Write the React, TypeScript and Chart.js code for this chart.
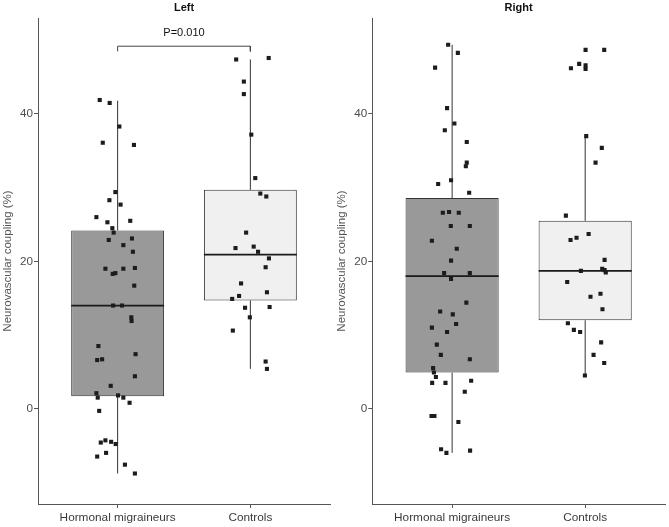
import React, { useEffect, useRef } from 'react';
import { Chart, registerables } from 'chart.js';

Chart.register(...registerables);

// ---- shared axis data ----
const categories = ['Hormonal migraineurs', 'Controls'];
const yTickValues = [0, 20, 40];
const yMin = -12.94;
const yMax = 53.03;
const yTitle = 'Neurovascular coupling (%)';

// ---- Left panel: box statistics (per category) ----
const leftQ1 = [1.7, 14.7];
const leftMedian = [14.0, 20.9];
const leftQ3 = [24.2, 29.7];
const leftLow = [-8.8, 5.4];
const leftHigh = [41.8, 47.4];

// ---- Left panel: jittered points ----
const leftHmX = [-0.135, -0.06, 0.013, -0.112, 0.123, -0.017, -0.062, 0.022, -0.16, 0.095, -0.077, -0.04, -0.03, 0.108, -0.067, 0.043, 0.115, -0.092, -0.037, -0.017, 0.043, 0.13, 0.125, -0.034, 0.033, 0.103, 0.105, -0.145, -0.154, -0.117, 0.135, 0.13, -0.052, -0.16, -0.15, 0.003, 0.043, 0.09, -0.139, -0.127, -0.092, -0.049, -0.015, -0.087, -0.154, 0.055, 0.13];
const leftHmY = [41.9, 41.5, 38.3, 36.1, 35.8, 29.4, 28.3, 27.7, 26.0, 25.5, 25.3, 24.5, 23.9, 23.1, 22.9, 22.2, 21.3, 19.0, 18.3, 18.4, 19.0, 19.1, 16.7, 14.0, 14.0, 12.4, 11.9, 8.5, 6.6, 6.7, 7.4, 4.4, 3.1, 2.1, 1.5, 1.8, 1.5, 0.8, -0.3, -4.6, -4.3, -4.5, -4.8, -6.0, -6.5, -7.6, -8.8];
const leftCtX = [-0.107, 0.138, -0.049, -0.049, 0.007, 0.037, 0.075, 0.12, -0.032, -0.112, 0.025, 0.058, 0.14, 0.115, -0.07, 0.125, -0.085, -0.137, -0.04, 0.145, -0.004, -0.132, 0.115, 0.125];
const leftCtY = [47.4, 47.6, 44.4, 42.7, 37.2, 31.3, 29.2, 28.8, 23.9, 21.8, 22.0, 21.3, 20.4, 19.2, 17.0, 15.8, 15.3, 14.9, 13.7, 13.8, 12.4, 10.6, 6.4, 5.4];

// ---- Right panel: box statistics ----
const rightQ1 = [4.9, 12.0];
const rightMedian = [18.0, 18.7];
const rightQ3 = [28.6, 25.5];
const rightLow = [-6.0, 4.5];
const rightHigh = [49.4, 37.0];

// ---- Right panel: jittered points ----
const rightHmX = [-0.03, 0.043, -0.128, -0.038, 0.017, -0.055, 0.11, 0.11, 0.103, -0.008, -0.105, 0.128, -0.07, -0.023, 0.05, -0.01, 0.133, -0.152, 0.035, -0.008, -0.06, 0.133, -0.008, 0.107, -0.09, 0.005, 0.03, -0.152, -0.038, -0.115, -0.085, 0.133, -0.143, -0.137, -0.122, -0.15, -0.05, 0.143, 0.095, -0.155, -0.133, 0.047, -0.083, -0.043, 0.135];
const rightHmY = [49.4, 48.3, 46.3, 40.8, 38.7, 37.8, 36.2, 33.4, 32.9, 31.0, 30.5, 29.3, 26.6, 26.7, 26.6, 24.8, 24.8, 22.8, 21.7, 20.1, 18.4, 18.4, 17.6, 14.4, 13.2, 12.8, 11.5, 11.0, 10.4, 8.7, 7.3, 6.7, 5.5, 4.9, 4.3, 3.5, 3.5, 3.8, 2.3, -1.0, -1.0, -1.8, -5.5, -6.0, -5.7];
const rightCtX = [0.003, 0.143, -0.045, 0.003, -0.107, 0.003, 0.008, 0.125, 0.078, -0.145, 0.026, -0.065, -0.11, 0.146, 0.128, 0.146, 0.155, -0.032, -0.135, 0.04, 0.115, 0.13, -0.13, -0.085, -0.038, 0.12, 0.063, 0.143, -0.002];
const rightCtY = [48.7, 48.7, 46.8, 46.6, 46.2, 46.1, 37.0, 35.4, 33.4, 26.2, 23.7, 23.2, 22.9, 20.2, 19.0, 18.8, 18.5, 18.7, 17.2, 15.2, 15.6, 13.5, 11.6, 10.7, 10.4, 9.0, 7.3, 6.2, 4.5];

// ---- significance bracket (left panel) ----
const bracketTop = 49.2;
const bracketFoot = 48.5;
const pLabel = 'P=0.010';
const pLabelY = 51.0;

// ---- styles ----
const FONT = "'Liberation Sans', Arial, sans-serif";
const BOX_WIDTH = 0.7;
const boxFills = ['#999999', '#F0F0F0'];
const axisColor = '#555555';
const tickColor = '#4D4D4D';

type PanelProps = {
  title: string;
  left: number;
  width: number;
  yAxisWidth: number;
  q1: number[];
  median: number[];
  q3: number[];
  low: number[];
  high: number[];
  hmX: number[];
  hmY: number[];
  ctX: number[];
  ctY: number[];
  bracket?: boolean;
};

function Panel(p: PanelProps) {
  const ref = useRef<HTMLCanvasElement | null>(null);
  useEffect(() => {
    if (!ref.current) return;
    const points: { x: number; y: number }[] = [];
    p.hmX.forEach((dx, i) => points.push({ x: 1 + dx, y: p.hmY[i] }));
    p.ctX.forEach((dx, i) => points.push({ x: 2 + dx, y: p.ctY[i] }));

    const boxes = categories.map((_, i) => ({ x: i + 1, y: [p.q1[i], p.q3[i]] }));
    const medians: any[] = [];
    const whiskers: any[] = [];
    categories.forEach((_, i) => {
      const c = i + 1;
      medians.push({ x: c - BOX_WIDTH / 2, y: p.median[i] }, { x: c + BOX_WIDTH / 2, y: p.median[i] }, { x: c + BOX_WIDTH / 2, y: null });
      whiskers.push(
        { x: c, y: p.low[i] }, { x: c, y: p.q1[i] }, { x: c, y: null },
        { x: c, y: p.q3[i] }, { x: c, y: p.high[i] }, { x: c, y: null }
      );
    });

    const datasets: any[] = [
      {
        type: 'scatter', data: points, pointStyle: 'rect', pointRadius: 2.9,
        backgroundColor: '#1c1c1c', borderWidth: 0, order: 0,
      },
      {
        type: 'line', data: medians, borderColor: '#1a1a1a', borderWidth: 1.8,
        pointRadius: 0, spanGaps: false, order: 1,
      },
      {
        type: 'line', data: whiskers, borderColor: '#333333', borderWidth: 1,
        pointRadius: 0, spanGaps: false, order: 1,
      },
      {
        type: 'bar', data: boxes, backgroundColor: boxFills, borderColor: '#333333',
        borderWidth: 1, borderSkipped: false, barPercentage: BOX_WIDTH, categoryPercentage: 1, order: 2,
      },
    ];
    if (p.bracket) {
      datasets.push({
        type: 'line',
        data: [{ x: 1, y: bracketFoot }, { x: 1, y: bracketTop }, { x: 2, y: bracketTop }, { x: 2, y: bracketFoot }],
        borderColor: '#444444', borderWidth: 1, pointRadius: 0, order: 1,
      });
    }

    const pLabelPlugin = {
      id: 'pLabel',
      afterDatasetsDraw(chart: any) {
        if (!p.bracket) return;
        const { ctx, scales } = chart;
        ctx.save();
        ctx.font = `11px ${FONT}`;
        ctx.fillStyle = '#111111';
        ctx.textAlign = 'center';
        ctx.textBaseline = 'middle';
        ctx.fillText(pLabel, scales.x.getPixelForValue(1.5), scales.y.getPixelForValue(pLabelY));
        ctx.restore();
      },
    };

    const chart = new Chart(ref.current, {
      type: 'bar',
      data: { datasets },
      plugins: [pLabelPlugin],
      options: {
        responsive: false,
        maintainAspectRatio: false,
        animation: false,
        layout: { padding: { left: 0, right: 2, top: 0, bottom: 0 } },
        plugins: {
          legend: { display: false },
          tooltip: { enabled: false },
          title: {
            display: true, text: p.title, fullSize: false, color: '#111111',
            font: { family: FONT, size: 11, weight: 'bold' },
            padding: { top: 1.5, bottom: 3.3 },
          },
        },
        scales: {
          x: {
            type: 'linear', min: 0.4, max: 2.6, offset: false,
            afterBuildTicks: (s: any) => { s.ticks = categories.map((_, i) => ({ value: i + 1 })); },
            afterFit: (s: any) => { s.height = 23; },
            ticks: {
              callback: (v: any) => categories[Math.round(v) - 1] ?? '',
              font: { family: FONT, size: 11.8 }, color: '#3a3a3a', padding: 3,
              autoSkip: false, maxRotation: 0,
            },
            grid: { offset: false, drawOnChartArea: false, drawTicks: true, tickLength: 4, color: axisColor },
            border: { color: axisColor, width: 1 },
          },
          y: {
            type: 'linear', min: yMin, max: yMax,
            afterBuildTicks: (s: any) => { s.ticks = yTickValues.map((v) => ({ value: v })); },
            afterFit: (s: any) => { s.width = p.yAxisWidth; },
            ticks: { font: { family: FONT, size: 11.7 }, color: tickColor, padding: 1 },
            grid: { drawOnChartArea: false, drawTicks: true, tickLength: 4, color: axisColor },
            border: { color: axisColor, width: 1 },
            title: {
              display: true, text: yTitle, color: '#555555',
              font: { family: FONT, size: 11.5 }, padding: { top: 1, bottom: 0 },
            },
          },
        },
      } as any,
    });
    return () => chart.destroy();
  }, []);

  return (
    <canvas
      ref={ref}
      width={p.width}
      height={527}
      style={{ position: 'absolute', left: p.left, top: 0, width: p.width, height: 527 }}
    />
  );
}

export default function App() {
  return (
    <div style={{ position: 'absolute', left: 0, top: 0, width: 669, height: 527, background: '#ffffff' }}>
      <Panel
        title="Left" left={0} width={334} yAxisWidth={38}
        q1={leftQ1} median={leftMedian} q3={leftQ3} low={leftLow} high={leftHigh}
        hmX={leftHmX} hmY={leftHmY} ctX={leftCtX} ctY={leftCtY} bracket
      />
      <Panel
        title="Right" left={334} width={335} yAxisWidth={38.3}
        q1={rightQ1} median={rightMedian} q3={rightQ3} low={rightLow} high={rightHigh}
        hmX={rightHmX} hmY={rightHmY} ctX={rightCtX} ctY={rightCtY}
      />
    </div>
  );
}
